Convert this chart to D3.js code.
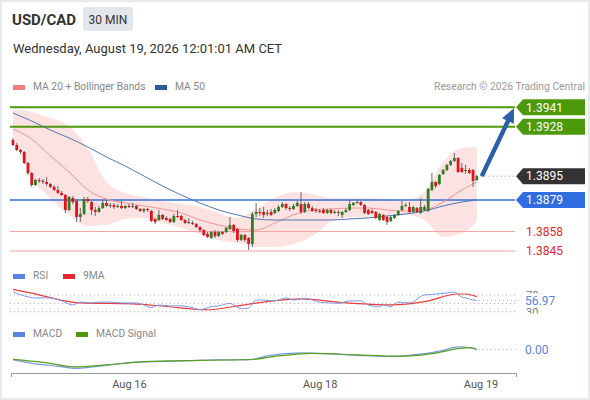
<!DOCTYPE html>
<html>
<head>
<meta charset="utf-8">
<script src="https://cdn.jsdelivr.net/npm/d3@7"></script>
<style>
  html, body { margin: 0; padding: 0; background: #fff; }
  svg { display: block; font-family: Roboto, "Liberation Sans", Arial, sans-serif; }
</style>
</head>
<body>
<div id="chart"></div>
<script>
// 30 min candles, index 0 = first visible bar
const openP = [
  1.39192,1.39158,1.39125,1.39111,1.39038,1.38971,1.38891,1.38924,1.38918,1.38911,
  1.38898,1.38878,1.38858,1.38838,1.38824,1.38724,1.38804,1.38784,1.38677,1.38697,
  1.38797,1.38777,1.38724,1.38711,1.38737,1.38771,1.38751,1.38757,1.38744,1.38751,
  1.38737,1.38751,1.38744,1.38751,1.38731,1.38717,1.38731,1.38717,1.38664,1.38657,
  1.38691,1.38671,1.38664,1.38644,1.38684,1.38684,1.38657,1.38637,1.38637,1.38630,
  1.38610,1.38590,1.38564,1.38537,1.38577,1.38550,1.38577,1.38577,1.38597,1.38624,
  1.38597,1.38524,1.38557,1.38537,1.38497,1.38697,1.38711,1.38711,1.38697,1.38711,
  1.38704,1.38717,1.38744,1.38764,1.38737,1.38731,1.38751,1.38764,1.38711,1.38764,
  1.38737,1.38724,1.38717,1.38724,1.38704,1.38724,1.38711,1.38711,1.38691,1.38711,
  1.38724,1.38757,1.38771,1.38777,1.38757,1.38724,1.38717,1.38711,1.38657,1.38691,
  1.38677,1.38651,1.38671,1.38691,1.38724,1.38751,1.38744,1.38711,1.38737,1.38704,
  1.38724,1.38717,1.38858,1.38911,1.38898,1.38964,1.38991,1.39025,1.39051,1.39071,
  1.39005,1.38991,1.38991,1.38991,1.38924
]
const highP = [
  1.39205,1.39172,1.39131,1.39118,1.39045,1.38978,1.38931,1.38938,1.38931,1.38944,
  1.38904,1.38891,1.38884,1.38851,1.38831,1.38818,1.38818,1.38797,1.38737,1.38811,
  1.38811,1.38784,1.38744,1.38751,1.38791,1.38791,1.38771,1.38771,1.38764,1.38784,
  1.38757,1.38764,1.38771,1.38757,1.38737,1.38737,1.38737,1.38724,1.38671,1.38724,
  1.38697,1.38684,1.38671,1.38697,1.38724,1.38691,1.38664,1.38671,1.38651,1.38637,
  1.38617,1.38597,1.38577,1.38584,1.38590,1.38584,1.38584,1.38610,1.38677,1.38630,
  1.38604,1.38564,1.38564,1.38544,1.38711,1.38771,1.38737,1.38744,1.38724,1.38731,
  1.38737,1.38757,1.38777,1.38771,1.38751,1.38764,1.38784,1.38844,1.38777,1.38777,
  1.38751,1.38737,1.38731,1.38737,1.38731,1.38731,1.38724,1.38724,1.38717,1.38737,
  1.38791,1.38777,1.38797,1.38784,1.38764,1.38731,1.38731,1.38717,1.38704,1.38697,
  1.38684,1.38684,1.38697,1.38724,1.38784,1.38771,1.38777,1.38751,1.38744,1.38804,
  1.38757,1.38871,1.38971,1.38918,1.38964,1.38998,1.39031,1.39058,1.39105,1.39078,
  1.39038,1.39025,1.39005,1.38998,1.38958
]
const lowP = [
  1.39151,1.39118,1.39098,1.39031,1.38958,1.38878,1.38884,1.38904,1.38898,1.38884,
  1.38871,1.38851,1.38831,1.38818,1.38704,1.38717,1.38764,1.38644,1.38644,1.38691,
  1.38771,1.38691,1.38684,1.38704,1.38731,1.38744,1.38737,1.38731,1.38737,1.38731,
  1.38731,1.38737,1.38737,1.38724,1.38711,1.38704,1.38711,1.38644,1.38630,1.38651,
  1.38657,1.38651,1.38637,1.38637,1.38671,1.38651,1.38630,1.38630,1.38624,1.38604,
  1.38577,1.38550,1.38537,1.38530,1.38537,1.38544,1.38557,1.38570,1.38590,1.38570,
  1.38510,1.38517,1.38510,1.38457,1.38477,1.38677,1.38684,1.38671,1.38684,1.38684,
  1.38697,1.38711,1.38737,1.38724,1.38717,1.38724,1.38744,1.38697,1.38704,1.38731,
  1.38711,1.38704,1.38704,1.38697,1.38697,1.38697,1.38697,1.38684,1.38671,1.38704,
  1.38717,1.38751,1.38764,1.38751,1.38697,1.38691,1.38697,1.38664,1.38651,1.38651,
  1.38624,1.38644,1.38664,1.38684,1.38717,1.38744,1.38704,1.38704,1.38704,1.38697,
  1.38717,1.38711,1.38851,1.38871,1.38891,1.38958,1.38984,1.39018,1.39045,1.38971,
  1.38971,1.38964,1.38964,1.38878,1.38918
]
const closeP = [
  1.39158,1.39125,1.39111,1.39038,1.38971,1.38891,1.38924,1.38918,1.38911,1.38898,
  1.38878,1.38858,1.38838,1.38824,1.38724,1.38811,1.38777,1.38677,1.38697,1.38797,
  1.38784,1.38724,1.38711,1.38737,1.38771,1.38751,1.38757,1.38744,1.38751,1.38737,
  1.38751,1.38744,1.38751,1.38731,1.38717,1.38731,1.38724,1.38651,1.38644,1.38691,
  1.38664,1.38657,1.38644,1.38684,1.38677,1.38657,1.38637,1.38644,1.38630,1.38610,
  1.38590,1.38557,1.38544,1.38577,1.38550,1.38577,1.38564,1.38604,1.38624,1.38584,
  1.38524,1.38557,1.38524,1.38497,1.38697,1.38711,1.38704,1.38691,1.38704,1.38691,
  1.38724,1.38744,1.38764,1.38737,1.38731,1.38751,1.38771,1.38711,1.38764,1.38737,
  1.38717,1.38717,1.38711,1.38704,1.38724,1.38704,1.38711,1.38704,1.38711,1.38724,
  1.38764,1.38771,1.38777,1.38757,1.38704,1.38697,1.38704,1.38671,1.38697,1.38657,
  1.38644,1.38677,1.38691,1.38717,1.38751,1.38757,1.38711,1.38744,1.38711,1.38744,
  1.38744,1.38864,1.38911,1.38884,1.38958,1.38991,1.39025,1.39051,1.39071,1.38978,
  1.38978,1.38991,1.38971,1.38918,1.38950
]

// moving averages every 5 bars
const bandIdx = [0,5,10,15,20,25,30,35,40,45,50,55,60,65,70,75,80,85,90,95,100,105,110,115,120,124]
const ma20 = [1.39265,1.39198,1.39085,1.38978,1.38858,1.38797,1.38771,1.38751,1.38731,1.38704,1.38657,1.38624,1.38597,
  1.38590,1.38637,1.38691,1.38724,1.38731,1.38737,1.38737,1.38724,1.38717,1.38724,1.38777,1.38858,1.38911]
const bbUpper = [1.39399,1.39379,1.39339,1.39285,1.39138,1.38911,1.38838,1.38811,1.38784,1.38764,1.38744,1.38704,1.38671,
  1.38731,1.38804,1.38844,1.38831,1.38804,1.38804,1.38804,1.38797,1.38791,1.38844,1.39045,1.39138,1.39145]
const bbLower = [1.39225,1.38938,1.38804,1.38691,1.38617,1.38624,1.38664,1.38671,1.38637,1.38604,1.38564,1.38524,1.38504,
  1.38477,1.38477,1.38497,1.38550,1.38644,1.38677,1.38677,1.38684,1.38691,1.38657,1.38544,1.38570,1.38644]
const ma50 = [1.39372,1.39318,1.39258,1.39205,1.39145,1.39078,1.39018,1.38951,1.38884,1.38824,1.38771,1.38724,1.38691,
  1.38664,1.38657,1.38657,1.38657,1.38657,1.38664,1.38671,1.38684,1.38697,1.38717,1.38751,1.38777,1.38791]

// key levels
const levelValues = [1.3941, 1.3928, 1.3895, 1.3879, 1.3858, 1.3845]
const levelKinds = ['res', 'res', 'last', 'pivot', 'sup', 'sup']

// RSI and its 9 period average
const rsiIdx = [0,3,6,10,13,16,18,21,23,26,29,33,35,37,39,42,45,47,50,53,55,58,61,63,65,67,70,73,75,78,82,85,87,90,93,95,98,99,101,103,106,110,113,116,118,120,121,123,124]
const rsiVal = [77,68,63,63,56,46,53,51,53,53,51,51,46,40,46,44,44,42,35,42,44,50,37,39,58,58,56,63,58,62,53,51,50,56,56,46,42,46,42,53,51,70,72,75,77,65,63,58,56.97]
const rsiMaIdx = [0,5,15,18,32,41,52,59,68,77,88,101,110,119,121,124]
const rsiMaVal = [83.6,74.7,54.2,51.2,48.8,42.5,34.7,42.5,54.2,60.6,51.9,46.5,54.2,72.4,72.4,66]
const rsiTicks = [70, 50, 30]
const rsiLast = 56.97

// MACD
const macdIdx = [0,5,12,17,25,32,45,50,60,64,68,77,84,92,100,110,115,119,122,124]
const macdVal = [-0.00052,-0.00070,-0.00085,-0.00095,-0.00080,-0.00065,-0.00058,-0.00055,-0.00052,-0.00050,
  -0.00033,-0.00018,-0.00022,-0.00030,-0.00036,-0.00022,-0.00005,0.00012,0.00008,-0.00001]
const signalIdx = [0,8,17,25,35,50,64,70,80,92,103,112,119,122,124]
const signalVal = [-0.00050,-0.00065,-0.00088,-0.00078,-0.00062,-0.00055,-0.00051,-0.00035,-0.00020,-0.00028,
  -0.00035,-0.00022,0.00003,0.00008,0.00000]

// x axis labels
const dateIdx = [31, 82, 125]
const dateLabels = ['Aug 16', 'Aug 18', 'Aug 19']

const width = 590
const height = 400

const svg = d3.select('#chart').append('svg').attr('width', width).attr('height', height)

svg.append('rect')
  .attr('x', 1).attr('y', 1)
  .attr('width', width - 2).attr('height', height - 2)
  .attr('fill', '#fff')
  .attr('stroke', '#e6e9ed')
  .attr('stroke-width', 2)

const lineLeft = 10
const lineRight = 516

const xScale = d3.scaleLinear().domain([0, 124]).range([13, 476.8])
const yPrice = d3.scaleLinear().domain([1.3845, 1.3941]).range([251, 107.3])
const yRsi = d3.scaleLinear().domain([30, 70]).range([311.7, 295])
const yMacd = d3.scaleLinear().domain([-0.001, 0]).range([369.3, 349.3])

// header
svg.append('text').attr('x', 12).attr('y', 25)
  .attr('font-size', '15px').attr('font-weight', 'bold').attr('fill', '#333')
  .text('USD/CAD')
svg.append('rect').attr('x', 83).attr('y', 7).attr('width', 50).attr('height', 24)
  .attr('rx', 2).attr('fill', '#e3e6ea')
svg.append('text').attr('x', 108).attr('y', 23.5).attr('text-anchor', 'middle')
  .attr('font-size', '12px').attr('fill', '#333')
  .text('30 MIN')
svg.append('text').attr('x', 13).attr('y', 53)
  .attr('font-size', '13px').attr('fill', '#333')
  .text('Wednesday, August 19, 2026 12:01:01 AM CET')

function legend(x, y, color, label) {
  svg.append('rect').attr('x', x).attr('y', y - 5).attr('width', 12).attr('height', 5).attr('fill', color)
  svg.append('text').attr('x', x + 20).attr('y', y)
    .attr('font-size', '10.3px').attr('fill', '#888')
    .text(label)
}
legend(13, 90, '#f47c7c', 'MA 20 + Bollinger Bands')
legend(155, 90, '#2d5a9a', 'MA 50')
svg.append('text').attr('x', 585).attr('y', 90).attr('text-anchor', 'end')
  .attr('font-size', '10.3px').attr('fill', '#999')
  .text('Research \u00a9 2026 Trading Central')

// bollinger band + moving averages
const bandRows = bandIdx.map(function(k, i) {
  return { k: k, up: bbUpper[i], lo: bbLower[i], mid: ma20[i], slow: ma50[i] }
})

const bandArea = d3.area()
  .x(function(d) { return xScale(d.k) })
  .y0(function(d) { return yPrice(d.lo) })
  .y1(function(d) { return yPrice(d.up) })
  .curve(d3.curveMonotoneX)

svg.append('path').datum(bandRows)
  .attr('d', bandArea)
  .attr('fill', '#fde2e2')

// level lines
const levelStyle = {
  res: { color: '#4c9a0c', width: 2 },
  pivot: { color: '#3a6fd8', width: 1.5 },
  sup: { color: '#f4a3a3', width: 1 }
}
levelValues.forEach(function(v, i) {
  const kind = levelKinds[i]
  if (kind === 'last') return
  svg.append('line')
    .attr('x1', lineLeft).attr('x2', lineRight - 1)
    .attr('y1', yPrice(v)).attr('y2', yPrice(v))
    .attr('stroke', levelStyle[kind].color)
    .attr('stroke-width', levelStyle[kind].width)
})

const midLine = d3.line()
  .x(function(d) { return xScale(d.k) })
  .y(function(d) { return yPrice(d.mid) })
  .curve(d3.curveMonotoneX)
const slowLine = d3.line()
  .x(function(d) { return xScale(d.k) })
  .y(function(d) { return yPrice(d.slow) })
  .curve(d3.curveMonotoneX)

svg.append('path').datum(bandRows).attr('d', midLine)
  .attr('fill', 'none').attr('stroke', '#f39494').attr('stroke-width', 1)
svg.append('path').datum(bandRows).attr('d', slowLine)
  .attr('fill', 'none').attr('stroke', '#4f76b8').attr('stroke-width', 1)

// candles
const candles = closeP.map(function(c, i) {
  return { i: i, o: openP[i], h: highP[i], l: lowP[i], c: c }
})
const bodyW = 2.8
const g = svg.append('g')
g.selectAll('line.wick').data(candles).enter().append('line')
  .attr('class', 'wick')
  .attr('x1', function(d) { return xScale(d.i) })
  .attr('x2', function(d) { return xScale(d.i) })
  .attr('y1', function(d) { return yPrice(d.h) })
  .attr('y2', function(d) { return yPrice(d.l) })
  .attr('stroke', '#666')
  .attr('stroke-width', 1)
g.selectAll('rect.body').data(candles).enter().append('rect')
  .attr('class', 'body')
  .attr('x', function(d) { return xScale(d.i) - bodyW / 2 })
  .attr('width', bodyW)
  .attr('y', function(d) { return yPrice(Math.max(d.o, d.c)) })
  .attr('height', function(d) { return Math.max(1, Math.abs(yPrice(d.o) - yPrice(d.c))) })
  .attr('fill', function(d) { return d.c >= d.o ? '#2f7d22' : '#e0141c' })

// dotted line from last close
const lastIdx = closeP.length - 1
const lastClose = closeP[lastIdx]
svg.append('line')
  .attr('x1', xScale(lastIdx) + 4).attr('x2', lineRight - 1)
  .attr('y1', yPrice(lastClose)).attr('y2', yPrice(lastClose))
  .attr('stroke', '#888').attr('stroke-dasharray', '1,3')

// projection arrow to target
const target = levelValues[0]
const ax0 = xScale(lastIdx) + 5
const ay0 = yPrice(lastClose)
const ax1 = lineRight - 2
const ay1 = yPrice(target) + 1
const dx = ax1 - ax0
const dy = ay1 - ay0
const len = Math.sqrt(dx * dx + dy * dy)
const ux = dx / len
const uy = dy / len
const headLen = 14
const headHalf = 6.5
const bx = ax1 - ux * headLen
const by = ay1 - uy * headLen
svg.append('line')
  .attr('x1', ax0).attr('y1', ay0)
  .attr('x2', bx + ux * 2).attr('y2', by + uy * 2)
  .attr('stroke', '#2c5fa8').attr('stroke-width', 4.5)
svg.append('path')
  .attr('d', 'M' + ax1 + ',' + ay1 +
    'L' + (bx - uy * headHalf) + ',' + (by + ux * headHalf) +
    'L' + (bx + uy * headHalf) + ',' + (by - ux * headHalf) + 'Z')
  .attr('fill', '#2c5fa8')

// price labels
const boxColor = { res: '#4c9a0c', last: '#333333', pivot: '#2f6de0' }
levelValues.forEach(function(v, i) {
  const kind = levelKinds[i]
  const y = yPrice(v)
  if (kind === 'sup') {
    svg.append('text').attr('x', 526).attr('y', y).attr('dy', '0.35em')
      .attr('font-size', '12px').attr('fill', '#e3262b')
      .text(d3.format('.4f')(v))
    return
  }
  svg.append('path')
    .attr('d', 'M' + lineRight + ',' + y + 'L' + (lineRight + 7) + ',' + (y - 8) +
      'L585,' + (y - 8) + 'L585,' + (y + 8) + 'L' + (lineRight + 7) + ',' + (y + 8) + 'Z')
    .attr('fill', boxColor[kind])
  svg.append('text').attr('x', 526).attr('y', y).attr('dy', '0.35em')
    .attr('font-size', '12px').attr('fill', '#fff')
    .text(d3.format('.4f')(v))
})

// RSI panel
legend(13, 279, '#5b82e0', 'RSI')
legend(63, 279, '#e8262b', '9MA')

rsiTicks.forEach(function(t) {
  svg.append('line')
    .attr('x1', lineLeft).attr('x2', lineRight + 1)
    .attr('y1', yRsi(t)).attr('y2', yRsi(t))
    .attr('stroke', '#aaa').attr('stroke-dasharray', '1,3')
})

svg.append('clipPath').attr('id', 'rsiClip')
  .append('rect').attr('x', 518).attr('y', 290.5).attr('width', 70).attr('height', 23)
const rsiLabels = svg.append('g').attr('clip-path', 'url(#rsiClip)')
rsiTicks.filter(function(t) { return t !== 50 }).forEach(function(t) {
  rsiLabels.append('text').attr('x', 526).attr('y', yRsi(t)).attr('dy', '0.35em')
    .attr('font-size', '11px').attr('fill', '#777')
    .text(t)
})

const rsiLine = d3.line()
  .x(function(d) { return xScale(d[0]) })
  .y(function(d) { return yRsi(d[1]) })
  .curve(d3.curveMonotoneX)

svg.append('path').datum(rsiMaIdx.map(function(k, i) { return [k, rsiMaVal[i]] }))
  .attr('d', rsiLine).attr('fill', 'none').attr('stroke', '#ee3a3a').attr('stroke-width', 1.2)
svg.append('path').datum(rsiIdx.map(function(k, i) { return [k, rsiVal[i]] }))
  .attr('d', rsiLine).attr('fill', 'none').attr('stroke', '#7c9be6').attr('stroke-width', 1)

svg.append('line')
  .attr('x1', xScale(lastIdx) + 2).attr('x2', lineRight + 1)
  .attr('y1', yRsi(rsiLast)).attr('y2', yRsi(rsiLast))
  .attr('stroke', '#8fa6dc').attr('stroke-dasharray', '1,3')
svg.append('rect').attr('x', 521).attr('y', yRsi(rsiLast) - 7).attr('width', 40).attr('height', 14).attr('fill', '#fff')
svg.append('text').attr('x', 525).attr('y', yRsi(rsiLast)).attr('dy', '0.35em')
  .attr('font-size', '12px').attr('fill', '#5b82e0')
  .text(d3.format('.2f')(rsiLast))

// MACD panel
legend(13, 337, '#5b82e0', 'MACD')
legend(76, 337, '#4c9a0c', 'MACD Signal')

const macdLine = d3.line()
  .x(function(d) { return xScale(d[0]) })
  .y(function(d) { return yMacd(d[1]) })
  .curve(d3.curveMonotoneX)

svg.append('path').datum(macdIdx.map(function(k, i) { return [k, macdVal[i]] }))
  .attr('d', macdLine).attr('fill', 'none').attr('stroke', '#7c9be6').attr('stroke-width', 1.2)
svg.append('path').datum(signalIdx.map(function(k, i) { return [k, signalVal[i]] }))
  .attr('d', macdLine).attr('fill', 'none').attr('stroke', '#58a01c').attr('stroke-width', 1.2)

svg.append('line')
  .attr('x1', xScale(lastIdx) + 2).attr('x2', lineRight + 1)
  .attr('y1', yMacd(0)).attr('y2', yMacd(0))
  .attr('stroke', '#8fa6dc').attr('stroke-dasharray', '1,3')
svg.append('text').attr('x', 525).attr('y', yMacd(0)).attr('dy', '0.35em')
  .attr('font-size', '12px').attr('fill', '#5b82e0')
  .text(d3.format('.2f')(0))

// time axis
const axisScale = xScale.copy()
  .domain([xScale.invert(11), xScale.invert(lineRight)])
  .range([11, lineRight])
const xAxis = d3.axisBottom(axisScale)
  .tickValues(dateIdx)
  .tickSizeInner(0)
  .tickSizeOuter(4)
  .tickPadding(7)
  .tickFormat(function(d, i) { return dateLabels[i] })

const axisG = svg.append('g')
  .attr('class', 'axis x-axis')
  .attr('transform', 'translate(0,373)')
  .call(xAxis)
axisG.select('.domain').attr('stroke', '#999')
axisG.selectAll('text')
  .attr('font-family', 'Roboto, "Liberation Sans", Arial, sans-serif')
  .attr('font-size', '11px').attr('fill', '#555')
</script>
</body>
</html>
